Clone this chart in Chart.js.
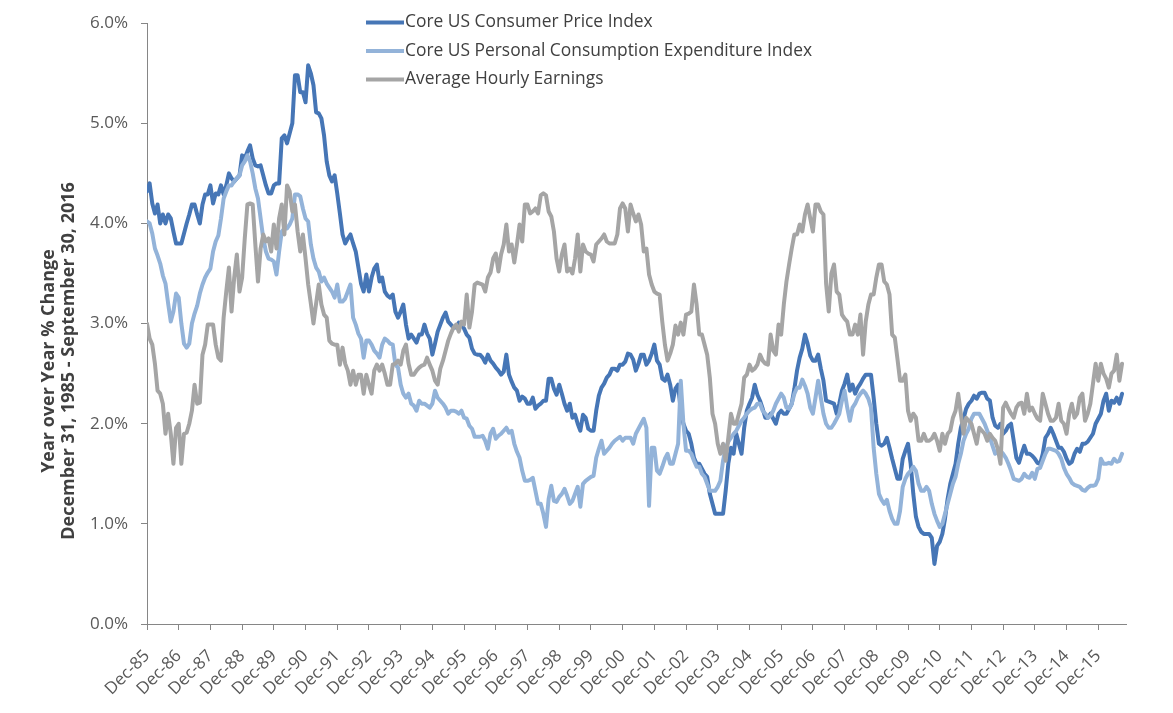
<!DOCTYPE html>
<html>
<head>
<meta charset="utf-8">
<script src="https://cdn.jsdelivr.net/npm/chart.js@4.4.0/dist/chart.umd.min.js"></script>
<style>
  html, body { margin: 0; padding: 0; background: #fff; }
  #wrap { width: 1173px; height: 713px; }
</style>
</head>
<body>
<div id="wrap"><canvas id="yoyChart" width="1173" height="713"></canvas></div>
<script>
// Year over year % change, monthly, Dec-85 .. Sep-16 (one row = Dec..Nov)
const cpi = [
  4.32, 4.4, 4.2, 4.1, 4.19, 4.0, 4.09, 4.0, 4.09, 4.05, 3.92, 3.8,
  3.8, 3.8, 3.9, 4.0, 4.09, 4.19, 4.19, 4.09, 4.0, 4.19, 4.29, 4.29,
  4.38, 4.2, 4.3, 4.29, 4.38, 4.29, 4.38, 4.5, 4.45, 4.42, 4.45, 4.48,
  4.68, 4.65, 4.72, 4.78, 4.65, 4.58, 4.57, 4.58, 4.48, 4.38, 4.3, 4.3,
  4.38, 4.4, 4.4, 4.85, 4.88, 4.8, 4.9, 5.0, 5.48, 5.48, 5.31, 5.31,
  5.21, 5.58, 5.5, 5.38, 5.11, 5.1, 5.05, 4.88, 4.62, 4.48, 4.42, 4.48,
  4.3, 4.1, 3.89, 3.8, 3.85, 3.89, 3.8, 3.72, 3.56, 3.4, 3.32, 3.49,
  3.32, 3.46, 3.55, 3.59, 3.42, 3.46, 3.32, 3.28, 3.26, 3.29, 3.12, 3.06,
  3.12, 3.19, 2.99, 2.85, 2.89, 2.85, 2.81, 2.89, 2.89, 2.99, 2.9, 2.85,
  2.69, 2.8, 2.92, 2.99, 3.06, 3.11, 3.02, 2.99, 2.96, 2.96, 3.01, 2.99,
  2.95, 2.89, 2.86, 2.75, 2.7, 2.69, 2.69, 2.66, 2.61, 2.69, 2.63, 2.6,
  2.56, 2.53, 2.49, 2.52, 2.69, 2.49, 2.42, 2.36, 2.33, 2.23, 2.27, 2.25,
  2.2, 2.2, 2.26, 2.15, 2.18, 2.2, 2.23, 2.23, 2.45, 2.45, 2.35, 2.29,
  2.39, 2.3, 2.2, 2.13, 2.2, 2.06, 2.09, 2.0, 1.93, 2.09, 2.06, 1.95,
  1.93, 1.93, 2.13, 2.28, 2.36, 2.4, 2.46, 2.49, 2.55, 2.55, 2.53, 2.59,
  2.59, 2.62, 2.7, 2.69, 2.64, 2.53, 2.6, 2.69, 2.69, 2.59, 2.63, 2.7,
  2.79, 2.63, 2.59, 2.45, 2.43, 2.49, 2.39, 2.23, 2.35, 2.39, 2.13, 2.0,
  1.93, 1.9, 1.8, 1.66, 1.6, 1.6, 1.55, 1.5, 1.47, 1.3, 1.2, 1.1,
  1.1, 1.1, 1.1, 1.33, 1.6, 1.76, 1.7, 1.9, 1.8, 1.7, 1.96, 2.13,
  2.2, 2.26, 2.39, 2.29, 2.23, 2.15, 2.06, 2.06, 2.1, 2.05, 2.0, 2.1,
  2.13, 2.1, 2.1, 2.15, 2.2, 2.35, 2.53, 2.66, 2.75, 2.89, 2.8, 2.68,
  2.63, 2.63, 2.69, 2.55, 2.43, 2.23, 2.22, 2.21, 2.2, 2.1, 2.2, 2.33,
  2.4, 2.49, 2.33, 2.39, 2.3, 2.36, 2.4, 2.45, 2.49, 2.49, 2.49, 2.26,
  2.0, 1.8, 1.78, 1.8, 1.86, 1.76, 1.65, 1.55, 1.45, 1.45, 1.65, 1.73,
  1.8, 1.6, 1.3, 1.07, 0.97, 0.92, 0.9, 0.9, 0.9, 0.86, 0.6, 0.78,
  0.82, 0.9, 1.05, 1.25, 1.4, 1.5, 1.6, 1.8, 1.96, 2.05, 2.15, 2.2,
  2.23, 2.28, 2.25, 2.3, 2.31, 2.31, 2.25, 2.23, 2.06, 1.98, 1.96, 2.0,
  1.9, 1.93, 1.98, 2.0, 1.83, 1.66, 1.61, 1.7, 1.78, 1.7, 1.7, 1.68,
  1.65, 1.61, 1.6, 1.7, 1.86, 1.9, 1.96, 1.9, 1.83, 1.76, 1.76, 1.72,
  1.65, 1.6, 1.62, 1.7, 1.75, 1.72, 1.8, 1.8, 1.82, 1.86, 1.9, 2.0,
  2.05, 2.1, 2.23, 2.3, 2.13, 2.23, 2.21, 2.26, 2.2, 2.3
];
const pce = [
  4.02, 4.0, 3.9, 3.75, 3.68, 3.6, 3.48, 3.4, 3.2, 3.02, 3.12, 3.3,
  3.26, 3.0, 2.8, 2.76, 2.8, 3.0, 3.1, 3.18, 3.3, 3.39, 3.46, 3.51,
  3.55, 3.72, 3.82, 3.88, 4.05, 4.25, 4.32, 4.38, 4.38, 4.42, 4.45, 4.48,
  4.58, 4.62, 4.68, 4.62, 4.5, 4.35, 4.25, 4.05, 3.85, 3.72, 3.65, 3.64,
  3.62, 3.49, 3.72, 3.92, 3.95, 3.95, 3.99, 4.05, 4.29, 4.29, 4.27, 4.15,
  4.05, 4.02, 3.79, 3.65, 3.56, 3.52, 3.42, 3.46, 3.4, 3.36, 3.32, 3.26,
  3.39, 3.22, 3.22, 3.25, 3.32, 3.39, 3.06, 2.99, 2.9, 2.85, 2.66, 2.83,
  2.83, 2.79, 2.73, 2.7, 2.66, 2.79, 2.85, 2.83, 2.8, 2.79, 2.59, 2.56,
  2.39, 2.3, 2.26, 2.3, 2.2, 2.18, 2.13, 2.23, 2.2, 2.2, 2.18, 2.16,
  2.2, 2.33, 2.26, 2.23, 2.2, 2.16, 2.1, 2.13, 2.13, 2.12, 2.1, 2.13,
  2.06, 2.05, 1.98, 1.95, 1.87, 1.87, 1.87, 1.88, 1.83, 1.75, 1.9, 1.95,
  1.85, 1.88, 1.9, 1.93, 1.96, 1.91, 1.93, 1.8, 1.72, 1.66, 1.53, 1.43,
  1.43, 1.44, 1.46, 1.33, 1.2, 1.2, 1.1, 0.97, 1.25, 1.38, 1.23, 1.22,
  1.27, 1.3, 1.35, 1.28, 1.2, 1.23, 1.3, 1.37, 1.17, 1.4, 1.43, 1.45,
  1.47, 1.48, 1.66, 1.75, 1.83, 1.7, 1.73, 1.76, 1.8, 1.83, 1.85, 1.87,
  1.83, 1.86, 1.86, 1.86, 1.8, 1.9, 1.95, 2.0, 2.05, 1.96, 1.18, 1.76,
  1.76, 1.53, 1.5, 1.57, 1.65, 1.7, 1.6, 1.6, 1.7, 1.8, 2.43, 2.0,
  1.73, 1.73, 1.7, 1.63, 1.57, 1.57, 1.5, 1.47, 1.4, 1.33, 1.33, 1.33,
  1.37, 1.43, 1.63, 1.76, 1.82, 1.86, 1.9, 1.93, 1.98, 2.03, 2.06, 2.1,
  2.13, 2.15, 2.16, 2.2, 2.2, 2.13, 2.1, 2.06, 2.08, 2.13, 2.2, 2.25,
  2.3, 2.26, 2.16, 2.15, 2.2, 2.3, 2.36, 2.36, 2.44, 2.38, 2.3, 2.16,
  2.1, 2.26, 2.43, 2.26, 2.1, 2.0, 1.96, 1.96, 2.0, 2.05, 2.1, 2.23,
  2.33, 2.16, 2.03, 2.16, 2.2, 2.26, 2.3, 2.33, 2.3, 2.25, 2.16, 1.76,
  1.5, 1.3, 1.24, 1.2, 1.24, 1.13, 1.05, 1.0, 1.0, 1.13, 1.37, 1.45,
  1.5, 1.53, 1.57, 1.53, 1.4, 1.33, 1.33, 1.37, 1.33, 1.2, 1.1, 1.03,
  0.97, 1.0, 1.1, 1.2, 1.3, 1.4, 1.47, 1.6, 1.7, 1.83, 1.9, 1.95,
  2.05, 2.1, 2.1, 2.1, 2.05, 2.0, 1.93, 1.86, 1.78, 1.7, 1.72, 1.73,
  1.7, 1.66, 1.6, 1.53, 1.45, 1.44, 1.43, 1.45, 1.5, 1.47, 1.46, 1.51,
  1.45, 1.55, 1.56, 1.63, 1.7, 1.75, 1.75, 1.74, 1.73, 1.7, 1.65, 1.56,
  1.5, 1.46, 1.41, 1.39, 1.38, 1.37, 1.34, 1.33, 1.36, 1.38, 1.38, 1.39,
  1.45, 1.65, 1.6, 1.6, 1.61, 1.6, 1.65, 1.62, 1.63, 1.7
];
const ahe = [
  3.0, 2.85, 2.79, 2.6, 2.33, 2.3, 2.2, 1.9, 2.1, 1.9, 1.6, 1.96,
  2.0, 1.6, 1.9, 1.91, 2.0, 2.13, 2.39, 2.2, 2.21, 2.69, 2.79, 2.99,
  2.99, 2.99, 2.79, 2.66, 2.63, 3.06, 3.32, 3.56, 3.12, 3.46, 3.69, 3.32,
  3.46, 3.85, 4.19, 4.2, 4.19, 3.79, 3.42, 3.75, 3.89, 3.82, 3.85, 3.72,
  3.99, 3.75, 4.05, 4.19, 3.89, 4.38, 4.32, 4.12, 4.19, 3.92, 3.72, 3.89,
  3.65, 3.39, 3.2, 3.0, 3.2, 3.39, 3.19, 3.09, 3.06, 2.83, 2.8, 2.79,
  2.79, 2.59, 2.76, 2.6, 2.53, 2.39, 2.53, 2.39, 2.49, 2.49, 2.3, 2.49,
  2.39, 2.3, 2.53, 2.59, 2.53, 2.59, 2.5, 2.39, 2.39, 2.59, 2.6, 2.63,
  2.59, 2.73, 2.79, 2.6, 2.49, 2.49, 2.53, 2.56, 2.58, 2.59, 2.66, 2.59,
  2.53, 2.43, 2.39, 2.55, 2.63, 2.73, 2.83, 2.9, 2.96, 2.99, 2.92, 3.02,
  2.99, 3.29, 2.96, 3.12, 3.39, 3.41, 3.4, 3.39, 3.32, 3.46, 3.51, 3.65,
  3.7, 3.52, 3.69, 3.79, 3.99, 3.72, 3.79, 3.61, 3.79, 3.99, 3.82, 4.19,
  4.19, 4.1, 4.12, 4.15, 4.1, 4.28, 4.3, 4.28, 4.12, 4.07, 3.92, 3.65,
  3.52, 3.69, 3.79, 3.52, 3.55, 3.5, 3.65, 3.89, 3.52, 3.79, 3.72, 3.7,
  3.69, 3.62, 3.79, 3.82, 3.85, 3.89, 3.82, 3.8, 3.8, 3.8, 3.89, 4.15,
  4.2, 4.15, 3.92, 4.19, 4.1, 4.02, 4.09, 3.99, 3.72, 3.75, 3.49, 3.39,
  3.32, 3.3, 3.29, 3.02, 2.79, 2.63, 2.7, 2.79, 2.98, 2.89, 3.01, 2.89,
  3.09, 3.1, 3.12, 3.39, 3.19, 2.89, 2.89, 2.79, 2.69, 2.46, 2.1, 2.0,
  1.8, 1.7, 1.8, 1.63, 1.86, 2.1, 2.0, 2.0, 2.1, 2.2, 2.46, 2.49,
  2.59, 2.53, 2.55, 2.59, 2.69, 2.63, 2.6, 2.59, 2.89, 2.73, 2.69, 2.99,
  2.89, 3.19, 3.42, 3.59, 3.75, 3.89, 3.89, 3.99, 3.92, 4.09, 4.19, 4.05,
  3.92, 4.19, 4.19, 4.12, 4.09, 3.4, 3.12, 3.5, 3.59, 3.32, 3.29, 3.09,
  3.05, 3.02, 2.89, 2.89, 2.99, 2.89, 3.09, 2.69, 3.02, 3.19, 3.29, 3.29,
  3.46, 3.59, 3.59, 3.42, 3.39, 3.29, 2.89, 2.86, 2.65, 2.43, 2.43, 2.49,
  2.13, 2.03, 2.1, 2.06, 1.83, 1.83, 1.9, 1.83, 1.83, 1.85, 1.9, 1.83,
  1.73, 1.9, 1.8, 1.9, 1.93, 2.06, 2.13, 2.3, 2.1, 1.9, 2.06, 2.03,
  2.0, 1.9, 1.8, 1.96, 1.93, 1.9, 1.83, 1.9, 1.86, 1.83, 1.75, 1.6,
  2.16, 2.21, 2.15, 2.1, 2.06, 2.16, 2.2, 2.21, 2.1, 2.3, 2.13, 2.16,
  2.1, 2.05, 2.03, 2.3, 2.2, 2.1, 2.03, 2.03, 2.06, 2.2, 2.03, 2.0,
  1.9, 2.1, 2.2, 2.06, 2.1, 2.26, 2.3, 2.03, 2.1, 2.2, 2.4, 2.6,
  2.43, 2.6, 2.5, 2.45, 2.36, 2.5, 2.53, 2.69, 2.43, 2.6
];

const seriesNames = [
  'Core US Consumer Price Index',
  'Core US Personal Consumption Expenditure Index',
  'Average Hourly Earnings'
];
const seriesColors = ['#4676b6', '#93b3d9', '#a5a5a5'];
const tickLabels = [
  'Dec-85', 'Dec-86', 'Dec-87', 'Dec-88', 'Dec-89', 'Dec-90', 'Dec-91', 'Dec-92',
  'Dec-93', 'Dec-94', 'Dec-95', 'Dec-96', 'Dec-97', 'Dec-98', 'Dec-99', 'Dec-00',
  'Dec-01', 'Dec-02', 'Dec-03', 'Dec-04', 'Dec-05', 'Dec-06', 'Dec-07', 'Dec-08',
  'Dec-09', 'Dec-10', 'Dec-11', 'Dec-12', 'Dec-13', 'Dec-14', 'Dec-15'
];
const yTitle = ['Year over Year % Change', 'December 31, 1985 - September 30, 2016'];

const monthIdx = cpi.map((_, i) => i);
const FONT = 'Open Sans';

// legend stacked in the upper middle + two line axis title
const overlay = {
  id: 'overlay',
  afterDraw(chart) {
    const ctx = chart.ctx;
    ctx.save();
    ctx.translate(49, 361);
    ctx.rotate(-Math.PI / 2);
    ctx.font = 'bold 18px "' + FONT + '"';
    ctx.fillStyle = '#404040';
    ctx.textAlign = 'center';
    ctx.textBaseline = 'middle';
    ctx.fillText(yTitle[0], 0, 0);
    ctx.fillText(yTitle[1], 0, 20);
    ctx.restore();

    ctx.save();
    ctx.font = '17.4px "' + FONT + '"';
    ctx.textBaseline = 'middle';
    chart.data.datasets.forEach((ds, i) => {
      const y = 22.5 + i * 28.5;
      ctx.strokeStyle = ds.borderColor;
      ctx.lineWidth = 4;
      ctx.beginPath();
      ctx.moveTo(366, y);
      ctx.lineTo(404, y);
      ctx.stroke();
      ctx.fillStyle = '#404040';
      ctx.fillText(ds.label, 405, y);
    });
    ctx.restore();
  }
};

const ctx = document.getElementById('yoyChart').getContext('2d');
new Chart(ctx, {
  type: 'line',
  data: {
    labels: monthIdx,
    datasets: [
      { label: seriesNames[0], data: cpi, borderColor: seriesColors[0], order: 3 },
      { label: seriesNames[1], data: pce, borderColor: seriesColors[1], order: 2 },
      { label: seriesNames[2], data: ahe, borderColor: seriesColors[2], order: 1 }
    ]
  },
  options: {
    responsive: false,
    animation: false,
    devicePixelRatio: 1,
    layout: { padding: { top: 21, right: 47, left: 0, bottom: 0 } },
    elements: {
      point: { radius: 0 },
      line: { borderWidth: 4, tension: 0, borderJoinStyle: 'round', borderCapStyle: 'round' }
    },
    plugins: { legend: { display: false }, tooltip: { enabled: false } },
    scales: {
      x: {
        type: 'linear',
        min: 0,
        max: 370.5,
        bounds: 'data',
        afterBuildTicks: (s) => { s.ticks = tickLabels.map((_, i) => ({ value: i * 12 })); },
        afterFit: (s) => { s.height = 89; },
        grid: { drawOnChartArea: false, color: '#868686', tickLength: 6 },
        border: { color: '#868686', width: 1 },
        ticks: {
          autoSkip: false,
          minRotation: 45,
          maxRotation: 45,
          padding: 16,
          color: '#595959',
          font: { family: FONT, size: 17 },
          callback: (v) => tickLabels[Math.round(v / 12)]
        }
      },
      y: {
        min: 0,
        max: 6,
        afterFit: (s) => { s.width = 147; },
        grid: { drawOnChartArea: false, color: '#868686', tickLength: 6 },
        border: { color: '#868686', width: 1 },
        ticks: {
          stepSize: 1,
          padding: 13,
          color: '#595959',
          font: { family: FONT, size: 17 },
          callback: (v) => v.toFixed(1) + '%'
        }
      }
    }
  },
  plugins: [overlay]
});
</script>
</body>
</html>
